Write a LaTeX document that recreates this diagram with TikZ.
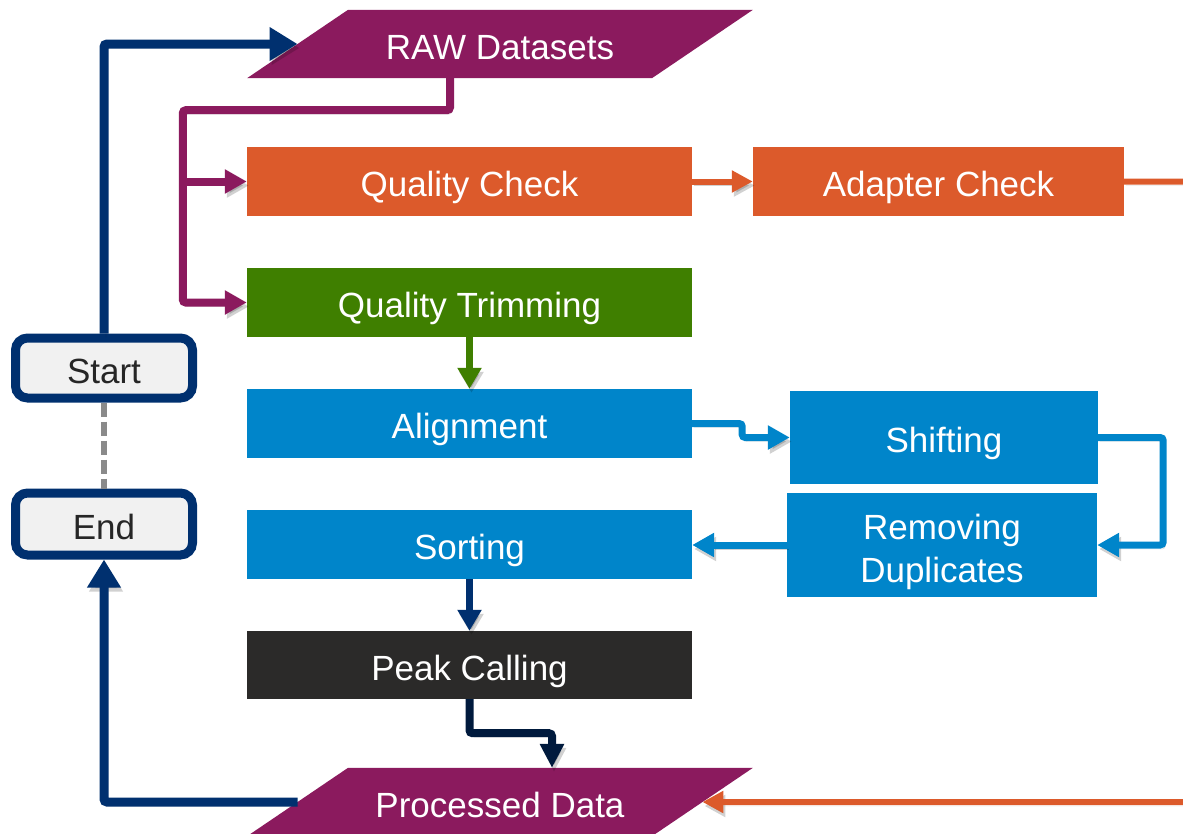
\documentclass[tikz,border=0pt]{standalone}
\usepackage{fontspec}
\setmainfont{Liberation Sans}
\usetikzlibrary{arrows.meta,calc,backgrounds}
\definecolor{cpurple}{HTML}{8B1A5E}
\definecolor{corange}{HTML}{DC5A2B}
\definecolor{cgreen}{HTML}{3F7F00}
\definecolor{cblue}{HTML}{0085CA}
\definecolor{cdark}{HTML}{2B2A29}
\definecolor{cnavy}{HTML}{00306F}
\definecolor{cdeep}{HTML}{001A3D}
\definecolor{cstartfill}{HTML}{F1F1F1}
\definecolor{cdash}{HTML}{8A8A8A}
\begin{document}
\begin{tikzpicture}[x=1pt,y=-1pt,
  txt/.style={font=\fontsize{35}{43}\selectfont, text height=30pt, text depth=0pt},
  box/.style={rectangle, inner sep=0pt, text=white, txt, align=center,
    minimum width=445pt, minimum height=69pt},
  para/.style={rectangle, inner sep=0pt, text=white, txt,
    minimum width=404.5pt, minimum height=68pt},
  term/.style={rectangle, draw=cnavy, line width=9pt, rounded corners=12pt,
    fill=cstartfill, text=black!85, txt, minimum width=177pt, minimum height=60pt},
  shad/.style={preaction={draw=black, opacity=0.18, transform canvas={shift={(2,4)}}}},
  conn/.style={rounded corners=3pt, shad},
  navyc/.style={conn, draw=cnavy, line width=9pt, -{Triangle[width=32pt,length=28pt]}},
  purc/.style={conn, draw=cpurple, line width=8pt, -{Triangle[width=23pt,length=22pt]}},
  orc/.style={conn, draw=corange, line width=6pt, -{Triangle[width=21pt,length=21pt]}},
  grc/.style={conn, draw=cgreen, line width=7pt, -{Triangle[width=23pt,length=21pt]}},
  blc/.style={conn, draw=cblue, line width=7pt, -{Triangle[width=23pt,length=22pt]}},
  sortc/.style={conn, draw=cnavy, line width=7pt, -{Triangle[width=23pt,length=21pt]}},
  deepc/.style={conn, draw=cdeep, line width=8pt, -{Triangle[width=23pt,length=24pt]}},
  dashc/.style={draw=cdash, line width=6pt, dash pattern=on 14pt off 5pt}
]
\useasboundingbox (0,0) rectangle (1183,833);

% process boxes
\node[box, fill=corange] (qc) at (469.5,181.5) {Quality Check};
\node[box, fill=corange, minimum width=371pt] (ac) at (938.5,181.5) {Adapter Check};
\node[box, fill=cgreen] (qt) at (469.5,302.5) {Quality Trimming};
\node[box, fill=cblue] (al) at (469.5,423.5) {Alignment};
\node[box, fill=cblue, minimum width=308pt, minimum height=93pt] (sh) at (944,437.5) {Shifting};
\node[box, fill=cblue, minimum width=310pt, minimum height=104pt, text height=75pt] (rd) at (942,545) {Removing\\Duplicates};
\node[box, fill=cblue] (so) at (469.5,544.5) {Sorting};
\node[box, fill=cdark, minimum height=68pt] (pc) at (469.5,665) {Peak Calling};

% terminals
\node[term] (start) at (104,368) {Start};
\node[term, minimum height=62pt] (end) at (104,524) {End};

% data (parallelograms)
\node[para] (raw) at (500,44) {RAW Datasets};
\node[para] (pd) at (500,802) {Processed Data};
\begin{scope}[on background layer]
  \fill[cpurple] ($(raw.north west)+(50.5,0)$) -- ($(raw.north east)+(50.5,0)$)
    -- ($(raw.south east)+(-50.5,0)$) -- ($(raw.south west)+(-50.5,0)$) -- cycle;
  \fill[cpurple] ($(pd.north west)+(50.5,0)$) -- ($(pd.north east)+(50.5,0)$)
    -- ($(pd.south east)+(-50.5,0)$) -- ($(pd.south west)+(-50.5,0)$) -- cycle;
\end{scope}

% connectors
\draw[dashc] (start.south) -- (end.north);
\draw[navyc] (start.north) |- (raw.west);
\draw[purc] ($(raw.south)+(-50,0)$) -- ++(0,32) -| ($(qt.west)+(-64,0)$) -- (qt.west);
\draw[purc] ($(qc.west)+(-64,0)$) -- (qc.west);
\draw[orc] (qc.east) -- (ac.west);
\draw[orc] (ac.east) -- ++(66,0) |- (pd.east);
\draw[grc] (qt.south) -- (al.north);
\draw[blc] (al.east) -- ++(50,0) |- (sh.west);
\draw[blc] (sh.east) -- ++(65,0) |- (rd.east);
\draw[blc] (rd.west) -- (rd.west -| so.east);
\draw[sortc] (so.south) -- (pc.north);
\draw[deepc] (pc.south) -- ++(0,34) -| ($(pd.north)+(52,0)$);
\draw[navyc] (pd.west) -| (end.south);
\end{tikzpicture}
\end{document}
